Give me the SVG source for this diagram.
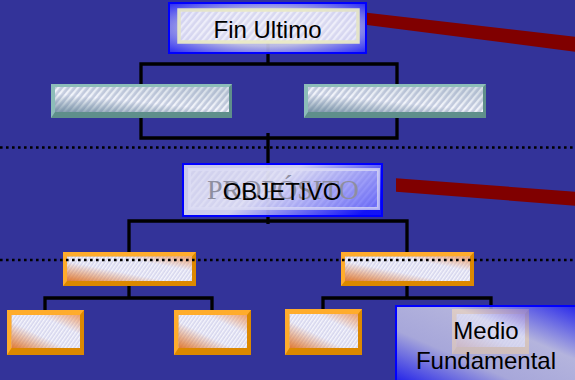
<svg xmlns="http://www.w3.org/2000/svg" width="575" height="380" viewBox="0 0 575 380">
<defs>
<style>
.conn{fill:none;stroke:#000;stroke-width:3.3}
.dot{fill:none;stroke:#000;stroke-width:2.6;stroke-dasharray:2.6 3.4}
.lbl{font-family:"Liberation Sans",Arial,sans-serif;font-size:24px;fill:#000;text-anchor:middle}
.ghost{font-family:"Liberation Serif","Times New Roman",serif;font-size:28px;fill:#8e8ea0;text-anchor:middle}
.tl{fill:#8dbdb9}.td{fill:#5f8f8b}
.ol{fill:#ffac2c}.od{fill:#dc8800}
.red{fill:#800000}
.bluebox{stroke:#0000ff;stroke-width:2}
</style>
<pattern id="hT" width="5" height="5" patternUnits="userSpaceOnUse" patternTransform="rotate(-50)">
<rect width="5" height="5" fill="#c6cde0"/><rect width="5" height="2.3" fill="#f3f5fb"/>
</pattern>
<pattern id="hO" width="3" height="3" patternUnits="userSpaceOnUse" patternTransform="rotate(-55)">
<rect width="3" height="3" fill="#d6d6ee"/><rect width="3" height="1.4" fill="#f6f6fc"/>
</pattern>
<pattern id="hL" width="5" height="5" patternUnits="userSpaceOnUse" patternTransform="rotate(-50)">
<rect width="5" height="5" fill="#dcdcf2"/><rect width="5" height="2.3" fill="#f4f4fc"/>
</pattern>
<linearGradient id="tintT" x1="0" y1="1" x2="0.7" y2="0">
<stop offset="0" stop-color="#5f7f94" stop-opacity="0.75"/>
<stop offset="0.5" stop-color="#5f7f94" stop-opacity="0"/>
<stop offset="1" stop-color="#5f7f94" stop-opacity="0.2"/>
</linearGradient>
<linearGradient id="tintO" x1="0" y1="1" x2="1" y2="0">
<stop offset="0" stop-color="#e07020" stop-opacity="0.9"/>
<stop offset="0.4" stop-color="#e07020" stop-opacity="0"/>
<stop offset="0.7" stop-color="#f09050" stop-opacity="0"/>
<stop offset="1" stop-color="#f08a40" stop-opacity="0.75"/>
</linearGradient>
<radialGradient id="gFin" cx="0.5" cy="0.5" r="0.72">
<stop offset="0" stop-color="#e6e6f6"/>
<stop offset="0.5" stop-color="#c8c8ec"/>
<stop offset="1" stop-color="#2020ff"/>
</radialGradient>
<linearGradient id="gObj" x1="0" y1="0.3" x2="1" y2="0.7">
<stop offset="0" stop-color="#d4d4f0"/>
<stop offset="0.42" stop-color="#dcdcf6"/>
<stop offset="1" stop-color="#1010ff"/>
</linearGradient>
<linearGradient id="gMed" x1="0" y1="1" x2="1" y2="0">
<stop offset="0" stop-color="#1010ff"/>
<stop offset="0.35" stop-color="#c4c4ea"/>
<stop offset="0.65" stop-color="#d4d4ee"/>
<stop offset="1" stop-color="#2020ff"/>
</linearGradient>
</defs>

<rect width="575" height="380" fill="#333399"/>

<g id="connectors">
<path class="conn" d="M268,40 V64 M141,84 V64 H397 V84"/>
<path class="conn" d="M141,118 V138 H397 V118 M268,133 V224"/>
<path class="conn" d="M129,253 V221 H407 V253"/>
<path class="conn" d="M129,286 V298 M45,311 V298 H212 V311"/>
<path class="conn" d="M407,286 V298 M323,310 V298 H491 V312"/>
</g>

<line class="dot" x1="0" y1="147.5" x2="575" y2="147.5"/>

<g id="teal-left">
<rect class="td" x="51" y="84" width="181" height="34"/>
<polygon class="tl" points="51,84 232,84 229,87 55,87 55,112 51,118"/>
<rect x="55" y="87" width="174" height="25" fill="url(#hT)"/>
<rect x="55" y="87" width="174" height="25" fill="url(#tintT)"/>
</g>
<g id="teal-right">
<rect class="td" x="304" y="84" width="182" height="34"/>
<polygon class="tl" points="304,84 486,84 483,87 308,87 308,112 304,118"/>
<rect x="308" y="87" width="175" height="25" fill="url(#hT)"/>
<rect x="308" y="87" width="175" height="25" fill="url(#tintT)"/>
</g>

<g id="fin-ultimo">
<rect class="bluebox" x="169" y="3" width="197" height="50" fill="url(#gFin)" fill-opacity="0.9"/>
<rect x="179" y="10" width="179" height="32" fill="url(#hL)" stroke="#eeeec6" stroke-width="3.5" opacity="0.9"/>
<text class="lbl" x="267.5" y="37.5">Fin Ultimo</text>
</g>

<g id="objetivo">
<rect class="bluebox" x="183" y="164" width="199" height="52" fill="url(#gObj)" fill-opacity="0.92"/>
<rect x="189.5" y="169.5" width="189" height="39" fill="url(#hL)" fill-opacity="0.45" stroke="#dcdcf4" stroke-width="3" stroke-opacity="0.75"/>
<text class="ghost" x="283" y="199">PROPÓSITO</text>
<text class="lbl" x="282" y="199.5">OBJETIVO</text>
</g>

<g id="mid-left">
<rect class="od" x="63" y="252" width="133" height="34"/>
<polygon class="ol" points="63,252 196,252 192,256.5 67,256.5 67,281 63,286"/>
<rect x="67" y="256.5" width="125" height="24.5" fill="url(#hO)"/>
<rect x="67" y="256.5" width="125" height="24.5" fill="url(#tintO)"/>
</g>
<g id="mid-right">
<rect class="od" x="341" y="252" width="133" height="34"/>
<polygon class="ol" points="341,252 474,252 470,256.5 345,256.5 345,281 341,286"/>
<rect x="345" y="256.5" width="125" height="24.5" fill="url(#hO)"/>
<rect x="345" y="256.5" width="125" height="24.5" fill="url(#tintO)"/>
</g>

<line class="dot" x1="0" y1="260" x2="575" y2="260"/>

<g id="low-1">
<rect class="od" x="7" y="310" width="77" height="45"/>
<polygon class="ol" points="7,310 84,310 80,315 11.5,315 11.5,348 7,355"/>
<rect x="11.5" y="315" width="68.5" height="33" fill="url(#hO)"/>
<rect x="11.5" y="315" width="68.5" height="33" fill="url(#tintO)"/>
</g>
<g id="low-2">
<rect class="od" x="174" y="310" width="77" height="45"/>
<polygon class="ol" points="174,310 251,310 247,315 178.5,315 178.5,348 174,355"/>
<rect x="178.5" y="315" width="68.5" height="33" fill="url(#hO)"/>
<rect x="178.5" y="315" width="68.5" height="33" fill="url(#tintO)"/>
</g>
<g id="low-3">
<rect class="od" x="285" y="309" width="77" height="46"/>
<polygon class="ol" points="285,309 362,309 358,314 289.5,314 289.5,348 285,355"/>
<rect x="289.5" y="314" width="68.5" height="34" fill="url(#hO)"/>
<rect x="289.5" y="314" width="68.5" height="34" fill="url(#tintO)"/>
</g>
<g id="low-4">
<rect class="od" x="452" y="309" width="77" height="45"/>
<polygon class="ol" points="452,309 529,309 525,314 456.5,314 456.5,347 452,354"/>
<rect x="456.5" y="314" width="68.5" height="33" fill="url(#hO)"/>
<rect x="456.5" y="314" width="68.5" height="33" fill="url(#tintO)"/>
</g>

<g id="medio-fundamental">
<rect class="bluebox" x="396" y="306" width="185" height="80" fill="url(#gMed)" fill-opacity="0.8"/>
<text class="lbl" x="486" y="339">Medio</text>
<text class="lbl" x="486" y="369">Fundamental</text>
</g>

<g id="red-lines">
<polygon class="red" points="367,12.7 575,36.7 575,51.7 367,25"/>
<polygon class="red" points="396,178.3 575,191.7 575,205.7 396,191.7"/>
</g>
</svg>
